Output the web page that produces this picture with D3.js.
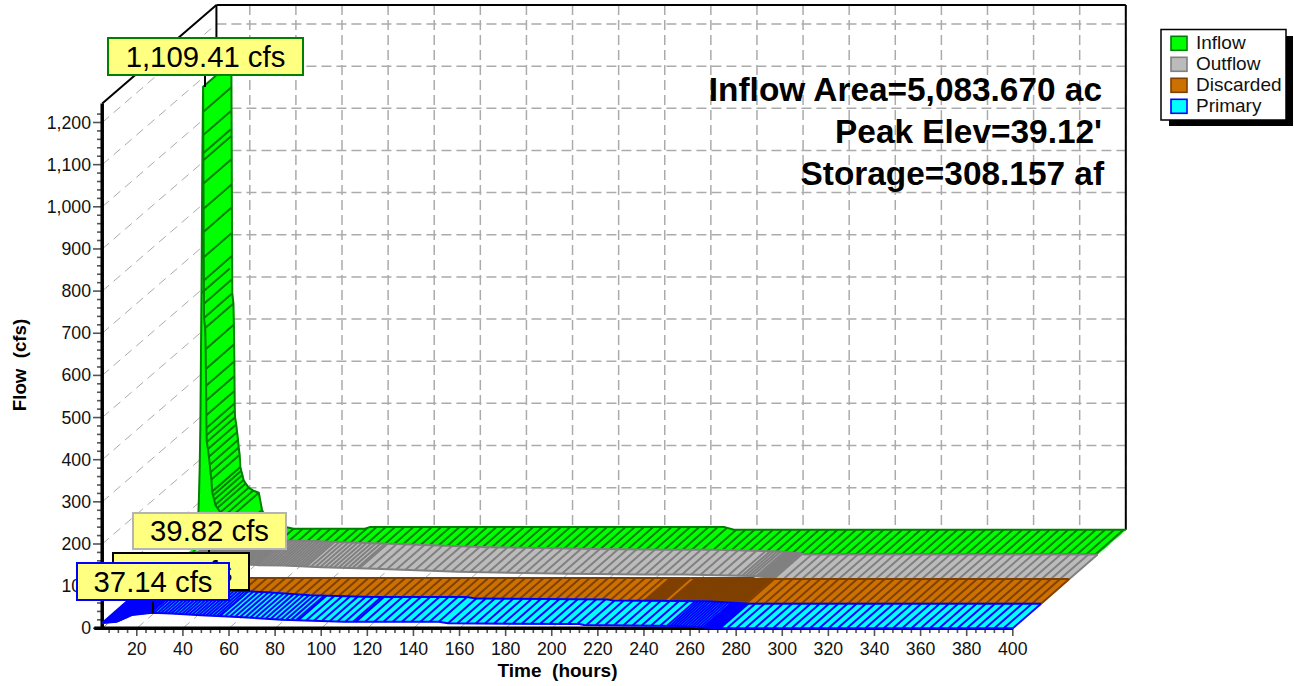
<!DOCTYPE html>
<html><head><meta charset="utf-8">
<script src="https://cdn.jsdelivr.net/npm/d3@7/dist/d3.min.js"></script>
<style>html,body{margin:0;padding:0;background:#fff}svg{display:block;font-family:"Liberation Sans",Arial,sans-serif}</style>
</head><body><svg id="c" width="1294" height="686"></svg>
<script>
const seriesNames = ["Inflow","Outflow","Discarded","Primary"];
const fills = ["#00ff00","#bbbbbb","#cc7000","#00ffff"];
const strokes = ["#008000","#808080","#7f4000","#0000ff"];
const peakLabels = ["1,109.41 cfs","39.82 cfs","2.68 cfs","37.14 cfs"];
const labelBorders = ["#008000","#b4b4b4","#000000","#0000ff"];
const notes = ["Inflow Area=5,083.670 ac","Peak Elev=39.12'","Storage=308.157 af"];
const xTicks = d3.range(20,401,20);
const yTicks = d3.range(0,1201,100);

const inflowTimes = [4.8,8,9.5,10.2,10.5,10.8,11.3,11.7,12,12.04,12.08,12.12,12.16,12.2,12.24,12.28,12.32,12.36,12.4,12.9,13.1,13.2,13.3,13.35,13.4,13.45,13.5,13.6,14.1,14.5,14.9,15.2,15.6,15.9,16.3,16.8,17.3,18.2,19.5,21.5,23.9,25.3,28.2,35,39,70,72,226,230,400];
const inflowValues = [0,5,30,136,200,300,620,950,1109.41,1050,995,935,880,820,765,705,650,595,561,537,487,440,400,365,330,300,283,267,250,232,213,195,178,149,140,130,118,110,100,93,88,47,12,7,2.4,2.4,6.4,6.4,0,0];
const outflowTimes = [4.8,10,16,22,26.7,36,48.4,59.3,75.8,98.8,135,183,214.7,233,262.4,271,273,400];
const outflowValues = [0,8,22,36,39.82,37,33,32,28,24.4,17.3,12.6,11,11,7,3,0,0];
const discardedTimes = [4.8,8,235,236,263,264,271,272,400];
const discardedValues = [0,2.68,2.68,2.2,2.2,0.3,0.3,0,0];
const primaryTimes = [5,11.4,17.8,26.7,35,48,64,83,110,151,155,212,214,255,270,273,400];
const primaryValues = [12.6,15.7,31.6,37.14,35,31,27,20,15.7,15.7,12,10,7.8,5.5,1,0,0];

// hatch spacing zones: [from hour, to hour, step in hours]
const inflowZones = [[35,400,4]];
const outflowZones = [[5,47,1],[47,69,1.3],[69,92,2],[92,258,4],[258,265,1.5],[265,272,0.7],[276,400,4]];
const discardedZones = [[8,227,4],[227,236,0.7],[238,271,0.7],[272,400,4]];
const primaryZones = [[5,26,0.5],[26,56,1.5],[56,90,2.2],[90,115,3.4],[115,250,4],[250,266,1.3],[266,273,0.5],[276,400,4]];

const allTimes = [inflowTimes,outflowTimes,discardedTimes,primaryTimes];
const allValues = [inflowValues,outflowValues,discardedValues,primaryValues];
const allZones = [inflowZones,outflowZones,discardedZones,primaryZones];
const extraHatchFromPoints = [true,false,false,false];
const depthFront = [0.75,0.5,0.25,0];

const svg = d3.select("#c");
const x = d3.scaleLinear().domain([20,400]).range([136.8,1012.8]);
const y = d3.scaleLinear().domain([0,1200]).range([628.3,122.5]);
const DX = 113, DY = 98.5, TMIN = 5, VTOP = 1245;
const px = (t,d)=>x(t)+DX*d, py=(v,d)=>y(v)-DY*d;
const GRID="#ababab";
const wallLeftBack = px(TMIN,1)+1.2;

function ln(g,x1,y1,x2,y2,st,w,dash){const l=g.append("line").attr("x1",x1).attr("y1",y1).attr("x2",x2).attr("y2",y2).attr("stroke",st).attr("stroke-width",w);if(dash)l.attr("stroke-dasharray",dash);return l;}

const grid = svg.append("g");
yTicks.slice(1).forEach(v=>ln(grid,wallLeftBack,py(v,1),px(400,1),py(v,1),GRID,1.5,"10 5"));
xTicks.forEach(t=>ln(grid,px(t,1),py(VTOP,1),px(t,1),py(0,1),GRID,1.5,"10 5"));
yTicks.slice(1).forEach(v=>ln(grid,px(TMIN,0),py(v,0),wallLeftBack,py(v,1),GRID,1,"9 6"));
xTicks.forEach(t=>ln(grid,px(t,0),py(0,0),px(t,1),py(0,1),GRID,1,"9 6"));

const frame = svg.append("g");
ln(frame,px(TMIN,0),py(VTOP,0),wallLeftBack,py(VTOP,1),"#000",2);
ln(frame,wallLeftBack,py(VTOP,1),px(400,1),py(VTOP,1),"#000",2);
ln(frame,wallLeftBack,py(VTOP,1),wallLeftBack,py(0,1),"#000",2);
ln(frame,px(400,1),py(VTOP,1),px(400,1),py(0,1),"#000",2);
ln(frame,px(TMIN,0),py(0,0),wallLeftBack,py(0,1),"#888",1);

const axisG = svg.append("g");
d3.range(20,1221,20).forEach(v=>{const M=v%100===0;ln(axisG,M?93:97,y(v),px(TMIN,0),y(v),"#555",1.6);});
ln(axisG,93,y(0),px(TMIN,0),y(0),"#555",1.6);
d3.range(8,401,4).forEach(t=>{const M=t%20===0;ln(axisG,x(t),628,x(t),M?636:633,"#555",1.6);});
ln(axisG,px(TMIN,0),py(VTOP,0),px(TMIN,0),630,"#000",3.5);
ln(axisG,px(TMIN,0)-8,628.3,x(400),628.3,"#000",3.5);

const tickLabels = svg.append("g").attr("font-size",17.7).attr("fill","#111");
yTicks.forEach(v=>tickLabels.append("text").attr("x",91).attr("y",y(v)+6).attr("text-anchor","end").text(d3.format(",")(v)));
xTicks.forEach(t=>tickLabels.append("text").attr("x",x(t)).attr("y",655).attr("text-anchor","middle").text(t));
svg.append("text").attr("x",557.5).attr("y",677).attr("text-anchor","middle").attr("font-weight","bold").attr("font-size",19).style("white-space","pre").text("Time  (hours)");
svg.append("text").attr("transform","translate(26,365) rotate(-90)").attr("text-anchor","middle").attr("font-weight","bold").attr("font-size",18.7).style("white-space","pre").text("Flow  (cfs)");

function interp(ts,vs,t){
  if(t<=ts[0])return vs[0];
  for(let i=1;i<ts.length;i++) if(t<=ts[i]){const f=(t-ts[i-1])/((ts[i]-ts[i-1])||1);return vs[i-1]+f*(vs[i]-vs[i-1]);}
  return vs[vs.length-1];
}
const lineFn = d3.line();
seriesNames.forEach((name,s)=>{
  const g = svg.append("g");
  const ts=allTimes[s], vs=allValues[s], d0=depthFront[s], d1=d0+0.25;
  const front=ts.map((t,i)=>[px(t,d0),py(vs[i],d0)]);
  const back=ts.map((t,i)=>[px(t,d1),py(vs[i],d1)]);
  for(let i=0;i<ts.length-1;i++){
    g.append("path").attr("d",lineFn([front[i],front[i+1],back[i+1],back[i]])+"Z").attr("fill",fills[s]).attr("stroke",fills[s]).attr("stroke-width",0.6);
  }
  let hatch=[];
  allZones[s].forEach(z=>{for(let t=z[0];t<z[1]+1e-6;t+=z[2])hatch.push([t,interp(ts,vs,t)]);});
  if(extraHatchFromPoints[s]) ts.forEach((t,i)=>{if(t<35&&vs[i]>=500)hatch.push([t,vs[i]]);else if(t<35&&i>8)hatch.push([t,vs[i]]);});
  hatch.forEach(h=>ln(g,px(h[0],d0),py(h[1],d0),px(h[0],d1),py(h[1],d1),strokes[s],2));
  // the rising limb of the far edge is hidden inside the ribbon
  const peakIdx = d3.maxIndex(vs);
  [front,back.slice(peakIdx)].forEach(p=>g.append("path").attr("d",lineFn(p)).attr("fill","none").attr("stroke",strokes[s]).attr("stroke-width",2).attr("stroke-linejoin","round"));
});

const noteY=[101,143,185], noteX=[1102,1102,1104];
notes.forEach((n,i)=>svg.append("text").attr("x",noteX[i]).attr("y",noteY[i]).attr("text-anchor","end").attr("font-weight","bold").attr("font-size",33.4).attr("fill","#000").text(n));

const boxes=[[108,38,195,37,205,74,87],[133,513,153,36,209,549,553],[113,553,136,37,181,590,596],[77,563,152,37,153,600,613]];
peakLabels.forEach((t,i)=>{
  const b=boxes[i];
  ln(svg,b[4],b[5],b[4],b[6],"#000",2);
  svg.append("rect").attr("x",b[0]).attr("y",b[1]).attr("width",b[2]).attr("height",b[3]).attr("fill","#ffff80").attr("stroke",labelBorders[i]).attr("stroke-width",2);
  svg.append("text").attr("x",b[0]+b[2]/2).attr("y",b[1]+b[3]/2+10).attr("text-anchor","middle").attr("font-size",29.3).attr("fill","#000").text(t);
});

const leg=svg.append("g");
leg.append("rect").attr("x",1169).attr("y",36).attr("width",124).attr("height",90).attr("fill","#000");
leg.append("rect").attr("x",1161).attr("y",29.5).attr("width",125).attr("height",90.5).attr("fill","#fff").attr("stroke","#000").attr("stroke-width",1.5);
seriesNames.forEach((n,i)=>{
  const cy=43.3+i*21;
  leg.append("rect").attr("x",1171).attr("y",cy-7).attr("width",16).attr("height",14).attr("fill",fills[i]).attr("stroke",strokes[i]).attr("stroke-width",1.6);
  leg.append("text").attr("x",1196).attr("y",cy+6).attr("font-size",19).attr("fill","#111").text(n);
});
</script></body></html>
